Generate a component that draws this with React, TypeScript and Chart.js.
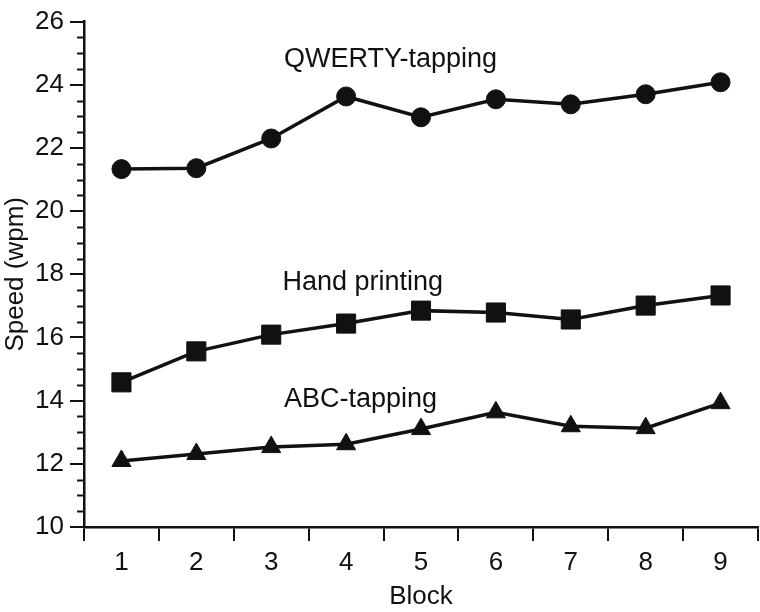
import React, { useEffect, useRef } from 'react';
import { Chart, registerables } from 'chart.js';

Chart.register(...registerables);

const blocks = ['1', '2', '3', '4', '5', '6', '7', '8', '9'];
const qwertyTapping = [21.33, 21.36, 22.3, 23.63, 22.97, 23.54, 23.38, 23.7, 24.08];
const handPrinting = [14.58, 15.56, 16.09, 16.44, 16.85, 16.79, 16.57, 17.01, 17.33];
const abcTapping = [12.09, 12.31, 12.53, 12.62, 13.1, 13.63, 13.19, 13.13, 13.92];

const seriesNames = ['QWERTY-tapping', 'Hand printing', 'ABC-tapping'];
const labelAnchorX = [2.17, 2.15, 2.17];
const labelAnchorY = [24.8, 17.73, 14.04];

const yMin = 10;
const yMax = 26;
const yMajorStep = 2;
const yMinorStep = 0.5;

const INK = '#111111';
const FONT = "'Liberation Sans', Arial, Helvetica, sans-serif";

const extrasPlugin = {
  id: 'extras',
  afterDraw(chart: any) {
    const { ctx, scales } = chart;
    const x = scales.x;
    const y = scales.y;
    ctx.save();
    ctx.strokeStyle = INK;
    ctx.lineWidth = 2;
    for (let v = yMin; v <= yMax + 1e-9; v += yMinorStep) {
      if (Math.abs(v % yMajorStep) < 1e-9) continue;
      const py = Math.round(y.getPixelForValue(v)) + 0.5;
      ctx.beginPath();
      ctx.moveTo(chart.chartArea.left - 7, py);
      ctx.lineTo(chart.chartArea.left, py);
      ctx.stroke();
    }
    ctx.fillStyle = INK;
    ctx.font = `27px ${FONT}`;
    ctx.textAlign = 'left';
    ctx.textBaseline = 'middle';
    seriesNames.forEach((name, i) => {
      ctx.fillText(name, x.getPixelForValue(labelAnchorX[i]), y.getPixelForValue(labelAnchorY[i]));
    });
    ctx.restore();
  },
};

export default function App() {
  const canvasRef = useRef<HTMLCanvasElement | null>(null);

  useEffect(() => {
    if (!canvasRef.current) return;
    const common = {
      borderColor: INK,
      backgroundColor: INK,
      pointBackgroundColor: INK,
      pointBorderColor: INK,
      borderWidth: 3.5,
      pointBorderWidth: 1,
      tension: 0,
      fill: false,
      clip: false,
    };
    const chart = new Chart(canvasRef.current, {
      type: 'line',
      data: {
        labels: blocks,
        datasets: [
          { ...common, label: seriesNames[0], data: qwertyTapping, pointStyle: 'circle', pointRadius: 9.5 },
          { ...common, label: seriesNames[1], data: handPrinting, pointStyle: 'rect', pointRadius: 13.5 },
          { ...common, label: seriesNames[2], data: abcTapping, pointStyle: 'triangle', pointRadius: 11 },
        ],
      },
      options: {
        responsive: false,
        animation: false,
        devicePixelRatio: 1,
        layout: { autoPadding: false, padding: { top: 20, right: 2, left: 0, bottom: 0 } },
        plugins: {
          legend: { display: false },
          tooltip: { enabled: false },
        },
        scales: {
          x: {
            type: 'category',
            offset: true,
            grid: {
              offset: true,
              drawOnChartArea: false,
              drawTicks: true,
              tickLength: 14,
              color: INK,
              lineWidth: 2,
            },
            border: { display: true, color: INK, width: 2.5 },
            ticks: {
              color: INK,
              font: { family: FONT, size: 26 },
              padding: 6,
              maxRotation: 0,
            },
            title: {
              display: true,
              text: 'Block',
              color: INK,
              font: { family: FONT, size: 26 },
              padding: { top: 0, bottom: 0 },
            },
            afterFit: (scale: any) => {
              scale.height = 85;
              scale.paddingLeft = 0;
              scale.paddingRight = 0;
            },
          },
          y: {
            min: yMin,
            max: yMax,
            grid: {
              drawOnChartArea: false,
              drawTicks: true,
              tickLength: 14,
              color: INK,
              lineWidth: 2,
            },
            border: { display: true, color: INK, width: 2.5 },
            ticks: {
              stepSize: yMajorStep,
              color: INK,
              font: { family: FONT, size: 26 },
              padding: 6,
            },
            title: {
              display: true,
              text: 'Speed (wpm)',
              color: INK,
              font: { family: FONT, size: 26 },
              padding: { top: 0, bottom: 0 },
            },
            afterFit: (scale: any) => {
              scale.width = 84;
            },
          },
        },
      },
      plugins: [extrasPlugin],
    });
    return () => chart.destroy();
  }, []);

  return (
    <div style={{ position: 'absolute', left: 0, top: 0, width: 760, height: 612, background: '#fff' }}>
      <canvas ref={canvasRef} width={760} height={612} />
    </div>
  );
}
